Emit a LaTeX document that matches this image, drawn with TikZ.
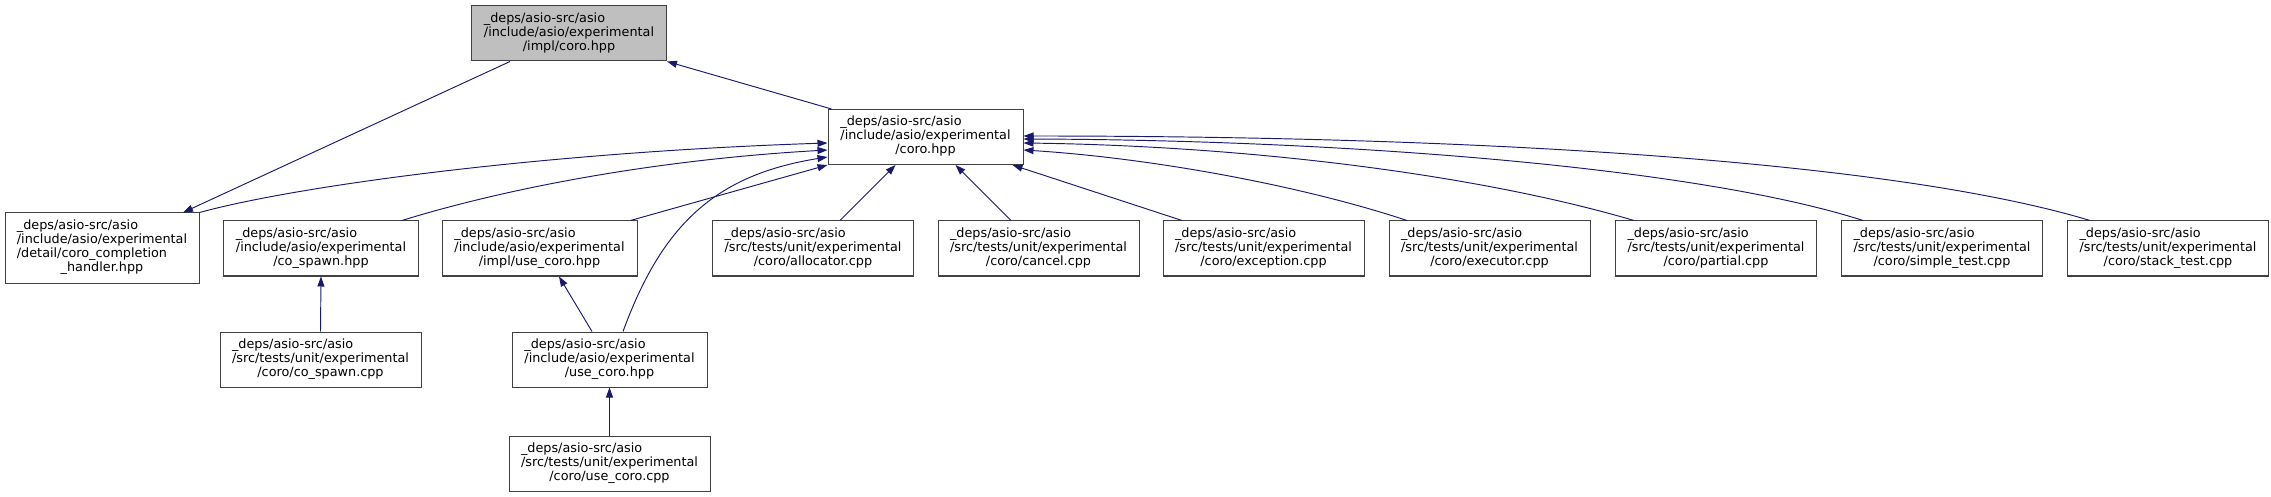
\documentclass[tikz,border=0pt]{standalone}
\usepackage{fontspec}
\usepackage{tikz}
\usetikzlibrary{arrows.meta,calc}
\newfontfamily\dotfont{DejaVu Sans}
\definecolor{edgeblue}{HTML}{191970}
\definecolor{nodegray}{HTML}{BFBFBF}
\definecolor{nodeline}{HTML}{404040}
% left lines, last line centred (as dot prints it)
\newcommand{\flabel}[2]{\begin{tabular}{@{}l@{}}#1\\\multicolumn{1}{@{}c@{}}{#2}\end{tabular}}
\tikzset{
  filebox/.style={draw=nodeline, line width=1pt, fill=white, inner sep=0pt, minimum height=55pt,
                  font=\dotfont\fontsize{12.8}{14}\selectfont},
  hppbox/.style={filebox, minimum width=195pt},
  cppbox/.style={filebox, minimum width=201pt},
  curbox/.style={hppbox, fill=nodegray},
  inc/.style={draw=edgeblue, line width=0.95pt, -{Triangle[length=10pt,width=7pt]}},
}

\begin{document}
\begin{tikzpicture}[x=1pt,y=-1pt]
    \useasboundingbox (0,0) rectangle (2271,497);
    % nodes
    \node[curbox] (implcoro) at (569,33.5) {\flabel{\_deps/asio-src/asio\\/include/asio/experimental}{/impl/coro.hpp}};
    \node[hppbox] (coro) at (925.5,137) {\flabel{\_deps/asio-src/asio\\/include/asio/experimental}{/coro.hpp}};
    \node[hppbox, minimum width=194pt, minimum height=70pt] (handler) at (102,248) {\flabel{\_deps/asio-src/asio\\/include/asio/experimental\\/detail/coro\_completion}{\_handler.hpp}};
    \node[hppbox] (cospawnh) at (321,248.5) {\flabel{\_deps/asio-src/asio\\/include/asio/experimental}{/co\_spawn.hpp}};
    \node[hppbox] (implusecoro) at (539.5,248.5) {\flabel{\_deps/asio-src/asio\\/include/asio/experimental}{/impl/use\_coro.hpp}};
    \node[cppbox] (allocator) at (813,248.5) {\flabel{\_deps/asio-src/asio\\/src/tests/unit/experimental}{/coro/allocator.cpp}};
    \node[cppbox] (cancel) at (1038.5,248.5) {\flabel{\_deps/asio-src/asio\\/src/tests/unit/experimental}{/coro/cancel.cpp}};
    \node[cppbox] (exception) at (1263.5,248.5) {\flabel{\_deps/asio-src/asio\\/src/tests/unit/experimental}{/coro/exception.cpp}};
    \node[cppbox] (executor) at (1489.5,248.5) {\flabel{\_deps/asio-src/asio\\/src/tests/unit/experimental}{/coro/executor.cpp}};
    \node[cppbox] (partial) at (1716,248.5) {\flabel{\_deps/asio-src/asio\\/src/tests/unit/experimental}{/coro/partial.cpp}};
    \node[cppbox] (simpletest) at (1942,248.5) {\flabel{\_deps/asio-src/asio\\/src/tests/unit/experimental}{/coro/simple\_test.cpp}};
    \node[cppbox] (stacktest) at (2168,248.5) {\flabel{\_deps/asio-src/asio\\/src/tests/unit/experimental}{/coro/stack\_test.cpp}};
    \node[cppbox] (cospawncpp) at (320.5,359.5) {\flabel{\_deps/asio-src/asio\\/src/tests/unit/experimental}{/coro/co\_spawn.cpp}};
    \node[hppbox] (usecoroh) at (609.5,359.5) {\flabel{\_deps/asio-src/asio\\/include/asio/experimental}{/use\_coro.hpp}};
    \node[cppbox] (usecorocpp) at (609.5,464) {\flabel{\_deps/asio-src/asio\\/src/tests/unit/experimental}{/coro/use\_coro.cpp}};

    % edges
    \draw[inc] ($(coro.north west)+(4,0)$) -- (implcoro.south east);
    \draw[inc] ($(implcoro.south)+(-59,0)$) -- ($(handler.north)+(81,0)$);
    \draw[inc] (handler.north east) .. controls (300,185) and (550,152) .. ($(coro.west)+(0,6)$);
    \draw[inc] ($(cospawnh.north)+(81,0)$) .. controls (500,190) and (650,160) .. ($(coro.west)+(0,13)$);
    \draw[inc] ($(implusecoro.north east)+(-7,0)$) -- (coro.south west);
    \draw[inc] ($(usecoroh.north)+(13.5,0)$) .. controls (662,225) and (715,175) .. ($(coro.west)+(0,20)$);
    \draw[inc] ($(allocator.north)+(27,0)$) -- ($(coro.south)+(-30,0)$);
    \draw[inc] ($(cancel.north)+(-27.5,0)$) -- ($(coro.south)+(30,0)$);
    \draw[inc] ($(exception.north)+(-81.5,0)$) -- ($(coro.south east)+(-11,0)$);
    \draw[inc] ($(executor.north west)+(18.5,0)$) .. controls (1300,185) and (1150,158) .. ($(coro.east)+(0,13)$);
    \draw[inc] ($(partial.north west)+(19,0)$) .. controls (1480,175) and (1250,146) .. ($(coro.east)+(0,6)$);
    \draw[inc] ($(simpletest.north west)+(22,0)$) .. controls (1700,168) and (1350,140) .. ($(coro.east)+(0,2)$);
    \draw[inc] ($(stacktest.north west)+(23,0)$) .. controls (1900,163) and (1500,136) .. ($(coro.east)+(0,-1)$);
    \draw[inc] (cospawncpp.north) -- (cospawnh.south);
    \draw[inc] ($(usecoroh.north)+(-17.5,0)$) -- ($(implusecoro.south)+(19.5,0)$);
    \draw[inc] (usecorocpp.north) -- (usecoroh.south);
\end{tikzpicture}
\end{document}
